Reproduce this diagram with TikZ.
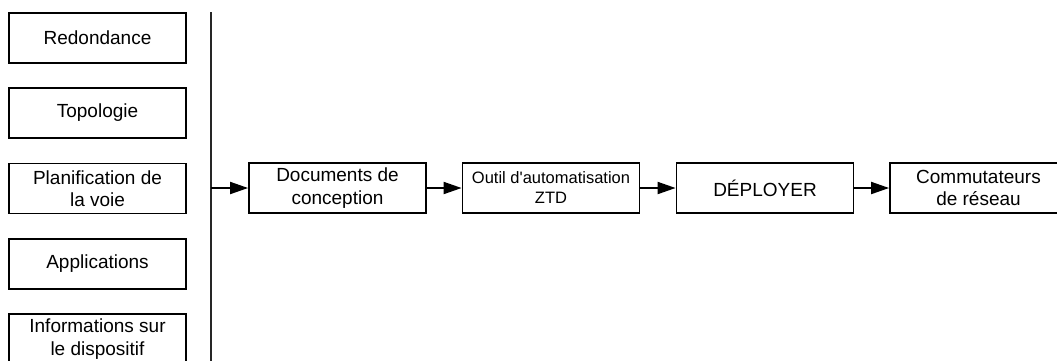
\documentclass[tikz,border=0pt]{standalone}
\usepackage{fontspec}
\setmainfont{Liberation Sans}
\newfontfamily\plainfont{Liberation Sans}
\usetikzlibrary{arrows.meta}
\begin{document}
\begin{tikzpicture}[x=1pt,y=-1pt,
  box/.style={draw=black, line width=1.8pt, minimum width=177pt, minimum height=50pt, inner sep=0pt, align=center, font=\fontsize{19}{22.5}\selectfont, text=black},
  smallbox/.style={box, font=\plainfont\fontsize{16.5}{20}\selectfont},
  flow/.style={line width=1.9pt, -{Triangle[length=18pt,width=12pt]}},
  bar/.style={line width=2pt, black!85}]
\clip (0,0) rectangle (1057,360);
\useasboundingbox (0,0) rectangle (1057,360);
\node[box] (red) at (97.5,38) {Redondance};
\node[box] (top) at (97.5,113) {Topologie};
\node[box] (plan) at (97.5,188.5) {Planification de\\la voie};
\node[box] (app) at (97.5,264) {Applications};
\node[box] (info) at (97.5,339) {Informations sur\\le dispositif};
\coordinate (bartop) at (210.5,12);
\coordinate (barbot) at (210.5,365);
\coordinate (barmid) at (210.5,188);
\draw[bar] (bartop) -- (barbot);
\node[box] (doc) at (337.5,188) {Documents de\\conception};
\node[smallbox] (outil) at (551,188) {Outil d'automatisation\\ZTD};
\node[box] (dep) at (765,188) {DÉPLOYER};
\node[box] (com) at (978.5,188) {Commutateurs\\de réseau};
\draw[flow] (barmid) -- (doc.west);
\draw[flow] (doc.east) -- (outil.west);
\draw[flow] (outil.east) -- (dep.west);
\draw[flow] (dep.east) -- (com.west);
\end{tikzpicture}
\end{document}
